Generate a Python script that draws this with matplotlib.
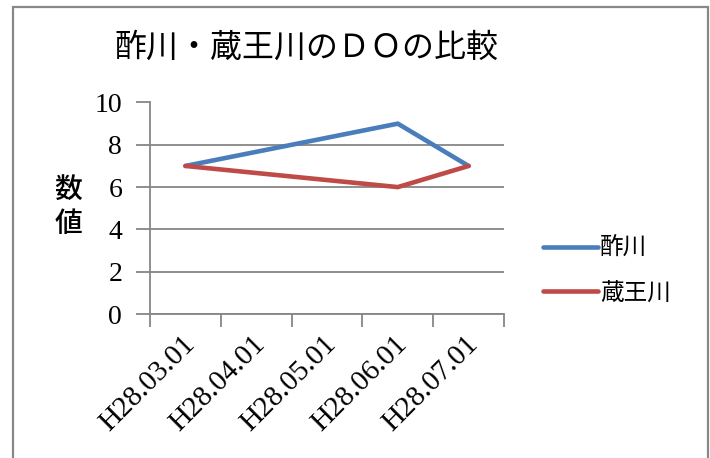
import matplotlib.pyplot as plt
from matplotlib.patches import Rectangle
from matplotlib.transforms import ScaledTranslation

# data
dates = ['H28.03.01', 'H28.04.01', 'H28.05.01', 'H28.06.01', 'H28.07.01']
obs_idx = [0, 3, 4]           # observation dates (index into dates)
sukawa = [7, 9, 7]            # 酢川
zaogawa = [7, 6, 7]           # 蔵王川
yticks = [0, 2, 4, 6, 8, 10]

jp = ['Noto Sans CJK JP', 'DejaVu Sans']
serif = 'Liberation Serif'
grid_c = '#868686'

fig = plt.figure(figsize=(7.1, 4.58), dpi=100)
ax = fig.add_axes([150 / 710, 1 - 314 / 458, 354 / 710, 211.5 / 458])

ax.plot(obs_idx, sukawa, color='#4A7EBB', lw=3.3, solid_capstyle='round',
        solid_joinstyle='miter', label='酢川')
ax.plot(obs_idx, zaogawa, color='#BE4B48', lw=3.3, solid_capstyle='round',
        solid_joinstyle='miter', label='蔵王川')

ax.set_xlim(-0.5, len(dates) - 0.5)
ax.set_ylim(0, 10)
ax.set_yticks(yticks)
ax.set_yticklabels([str(v) for v in yticks], fontfamily=serif, fontsize=20)
ax.set_xticks([i - 0.5 for i in range(len(dates) + 1)])
ax.set_xticklabels([])
ax.set_xticks(range(len(dates)), minor=True)
ax.set_xticklabels(dates, minor=True, rotation=45, ha='right', va='top',
                   rotation_mode='anchor', fontfamily=serif, fontsize=21)
ax.tick_params(axis='x', which='minor', length=0, pad=12)
ax.tick_params(axis='x', which='major', length=9, width=1.3, color=grid_c)
ax.tick_params(axis='y', length=10, width=1.3, color=grid_c, pad=10)

for lab in ax.get_xticklabels(minor=True):
    lab.set_transform(lab.get_transform() + ScaledTranslation(-0.04, 0, fig.dpi_scale_trans))

ax.grid(axis='y', color=grid_c, lw=1.3)
ax.set_axisbelow(True)
for s in ['top', 'right']:
    ax.spines[s].set_visible(False)
for s in ['left', 'bottom']:
    ax.spines[s].set_color(grid_c)
    ax.spines[s].set_linewidth(1.3)

fig.text(306 / 710, 1 - 48 / 458, '酢川・蔵王川のＤＯの比較', family=jp,
         fontsize=23, ha='center', va='center')
fig.text(68 / 710, 1 - 207 / 458, '数\n値', family=jp, fontsize=20,
         fontweight='medium', ha='center', va='center', linespacing=1.15)

leg = fig.legend(loc='upper left', bbox_to_anchor=(522 / 710, 1 - 216 / 458),
                 frameon=False, prop={'family': jp, 'size': 17},
                 handlelength=2.3, handletextpad=0.1, labelspacing=0.9)

fig.patches.append(Rectangle((13 / 710, -0.05), 695 / 710, 1.05 - 7 / 458,
                             transform=fig.transFigure, fill=False,
                             edgecolor='#888888', lw=1.6))

fig.savefig('out.png', dpi=100)
